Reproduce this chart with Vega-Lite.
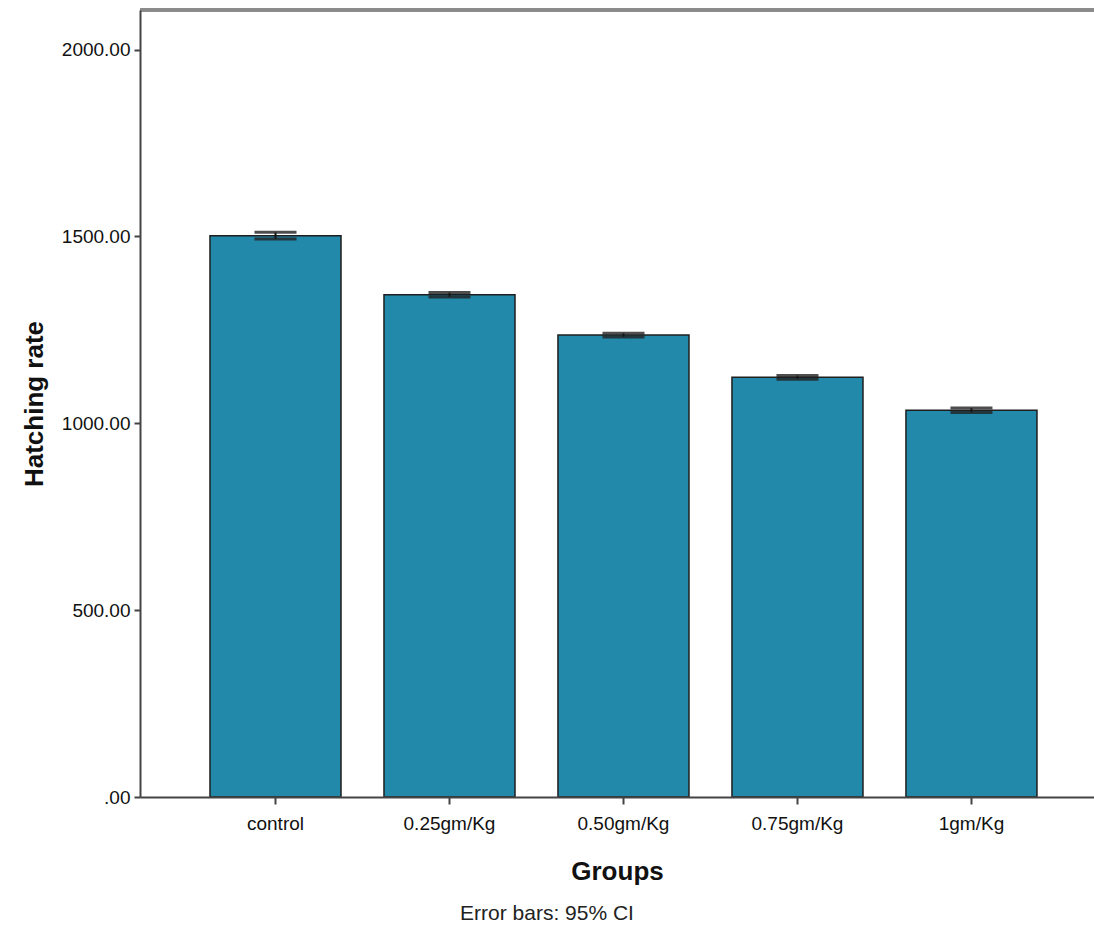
{
  "$schema": "https://vega.github.io/schema/vega-lite/v6.json",
  "width": 954,
  "height": 787,
  "autosize": {"type": "none"},
  "padding": {"left": 140, "top": 10, "right": 0, "bottom": 143},
  "background": "white",
  "config": {
    "view": {"stroke": null},
    "font": "Liberation Sans"
  },
  "title": {
    "text": "Error bars: 95% CI",
    "orient": "bottom",
    "anchor": "middle",
    "dx": -70,
    "offset": 19,
    "font": "Liberation Sans",
    "fontSize": 21,
    "fontWeight": "normal",
    "color": "#222"
  },
  "data": {
    "values": [
      {"group": "control", "mean": 1502, "lower": 1493, "upper": 1511},
      {"group": "0.25gm/Kg", "mean": 1344, "lower": 1338, "upper": 1350},
      {"group": "0.50gm/Kg", "mean": 1236, "lower": 1231, "upper": 1241},
      {"group": "0.75gm/Kg", "mean": 1123, "lower": 1118, "upper": 1128},
      {"group": "1gm/Kg", "mean": 1035, "lower": 1029, "upper": 1041}
    ]
  },
  "layer": [
    {
      "mark": {"type": "bar", "color": "#2389AB", "stroke": "#1e1e1e", "strokeWidth": 1.5},
      "encoding": {
        "x": {
          "field": "group",
          "type": "nominal",
          "sort": null,
          "scale": {"paddingInner": 0.247, "paddingOuter": 0.365, "align": 0.551},
          "axis": {
            "title": "Groups",
            "titleFont": "Liberation Sans",
            "titleFontSize": 26,
            "titleFontWeight": "bold",
            "titleColor": "#111",
            "titlePadding": 25,
            "labelAngle": 0,
            "labelFont": "Liberation Sans",
            "labelFontSize": 19,
            "labelColor": "#111",
            "labelPadding": 10,
            "tickSize": 7,
            "tickWidth": 2,
            "tickColor": "#444",
            "domainColor": "#444",
            "domainWidth": 2,
            "zindex": 1
          }
        },
        "y": {
          "field": "mean",
          "type": "quantitative",
          "scale": {"domain": [0, 2106], "nice": false},
          "axis": {
            "title": "Hatching rate",
            "titleFont": "Liberation Sans",
            "titleFontSize": 26,
            "titleFontWeight": "bold",
            "titleColor": "#111",
            "titlePadding": 14,
            "values": [0, 500, 1000, 1500, 2000],
            "labelExpr": "datum.value == 0 ? '.00' : format(datum.value, '.2f')",
            "labelFont": "Liberation Sans",
            "labelFontSize": 19,
            "labelColor": "#111",
            "labelPadding": 4,
            "tickSize": 6,
            "tickWidth": 2,
            "tickColor": "#444",
            "domainColor": "#444",
            "domainWidth": 2,
            "grid": false,
            "zindex": 1
          }
        }
      }
    },
    {
      "mark": {"type": "rule", "color": "#8a8a8a", "strokeWidth": 3},
      "encoding": {"y": {"datum": 2106, "type": "quantitative"}}
    },
    {
      "mark": {"type": "rule", "color": "#111", "strokeWidth": 2},
      "encoding": {
        "x": {"field": "group", "type": "nominal", "sort": null},
        "y": {"field": "lower", "type": "quantitative"},
        "y2": {"field": "upper"}
      }
    },
    {
      "mark": {"type": "tick", "color": "#222", "size": 42, "thickness": 3, "opacity": 0.8},
      "encoding": {
        "x": {"field": "group", "type": "nominal", "sort": null},
        "y": {"field": "lower", "type": "quantitative"}
      }
    },
    {
      "mark": {"type": "tick", "color": "#222", "size": 42, "thickness": 3, "opacity": 0.8},
      "encoding": {
        "x": {"field": "group", "type": "nominal", "sort": null},
        "y": {"field": "upper", "type": "quantitative"}
      }
    }
  ]
}
